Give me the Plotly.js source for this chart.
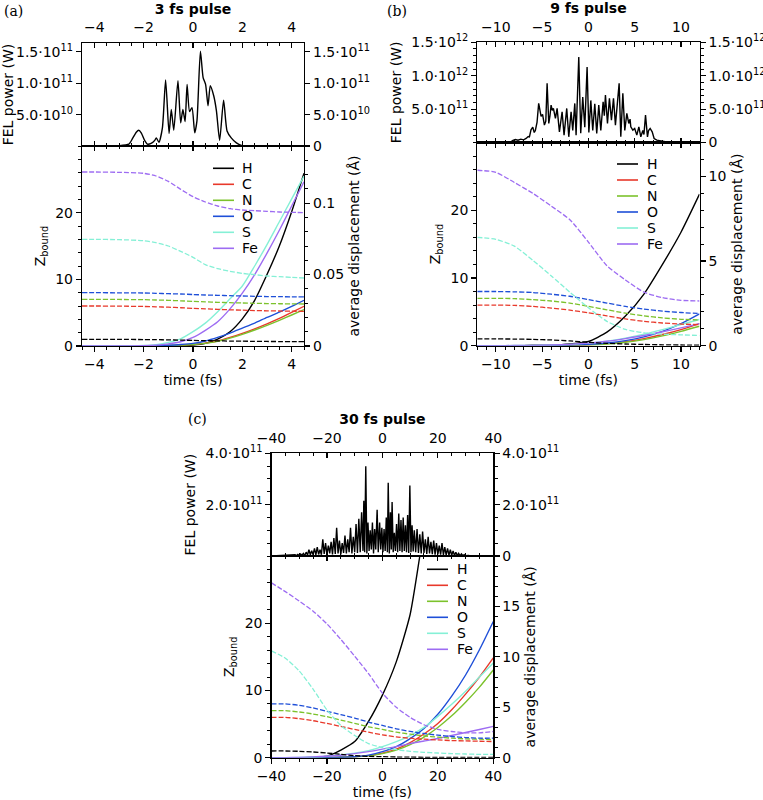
<!DOCTYPE html>
<html><head><meta charset="utf-8">
<script src="https://cdn.plot.ly/plotly-3.0.1.min.js"></script>
<style>html,body{margin:0;padding:0;background:#fff}#chart{width:763px;height:800px}</style>
</head><body><div id="chart"></div>
<script>
// ---------------- DATA ----------------
const elements = ['H','C','N','O','S','Fe'];
const colors = ['#000000','#e8392b','#7cc22c','#1e4fd8','#85f0d6','#9d6cf2'];

// Panel (a) : 3 fs pulse. FEL power in units of 1e10 W
const tPowA = [-4.5,-3.0,-2.6,-2.45,-2.3,-2.2,-2.1,-1.95,-1.85,-1.7,-1.55,-1.49,-1.38,-1.24,-1.11,-0.97,-0.88,-0.78,-0.61,-0.50,-0.41,-0.32,-0.24,-0.14,-0.04,0.07,0.16,0.30,0.41,0.51,0.61,0.70,0.84,0.95,1.08,1.24,1.38,1.55,1.76,1.96,2.2,4.5];
const powA  = [0,0.05,0.3,1.2,2.2,2.5,2.1,0.8,0.3,0.4,0.9,1.3,0.6,2.9,10.5,2.0,5.8,2.5,10.4,3.7,5.8,3.9,9.8,5.5,6.1,2.1,4.0,15.1,10.9,9.8,6.4,9.6,8.0,5.6,0.9,7.3,2.4,1.3,0.5,0.1,0,0];
const tA = [-4.5,-4,-3,-2,-1.5,-1,-0.5,0,0.5,1,1.5,2,2.5,3,3.5,4,4.5];
const zA_H  = [1.0,1.0,0.99,0.97,0.95,0.92,0.88,0.84,0.8,0.77,0.74,0.72,0.7,0.68,0.67,0.66,0.65];
const zA_C  = [6.0,6.0,5.98,5.93,5.88,5.82,5.74,5.65,5.57,5.5,5.43,5.37,5.32,5.28,5.25,5.22,5.2];
const zA_N  = [7.0,7.0,6.98,6.95,6.9,6.85,6.78,6.7,6.62,6.55,6.5,6.45,6.4,6.37,6.34,6.32,6.3];
const zA_O  = [8.0,8.0,7.98,7.95,7.9,7.85,7.8,7.72,7.65,7.6,7.55,7.5,7.45,7.42,7.4,7.38,7.36];
const zA_S  = [16.0,16.0,15.95,15.8,15.5,15.0,14.2,13.3,12.2,11.6,11.2,10.9,10.7,10.5,10.4,10.3,10.2];
const zA_Fe = [26.1,26.1,26.05,25.9,25.5,24.7,23.5,22.4,21.6,21.0,20.6,20.4,20.3,20.2,20.1,20.05,20.0];
const dA_H  = [0,0,0,0,0,0,0.0002,0.0006,0.0018,0.0048,0.01,0.019,0.032,0.05,0.07,0.094,0.121];
const dA_C  = [0,0,0,0,0.0001,0.0003,0.0006,0.0011,0.002,0.0035,0.006,0.0088,0.012,0.0155,0.0193,0.0235,0.0278];
const dA_N  = [0,0,0,0,0.0001,0.0003,0.0006,0.001,0.0018,0.0032,0.0055,0.0082,0.0112,0.0145,0.018,0.0217,0.0255];
const dA_O  = [0,0,0,0.0001,0.0002,0.0005,0.001,0.0018,0.0035,0.006,0.009,0.0125,0.016,0.02,0.0237,0.0277,0.032];
const dA_S  = [0,0,0.0001,0.0004,0.001,0.0025,0.005,0.01,0.016,0.024,0.033,0.042,0.056,0.071,0.087,0.103,0.119];
const dA_Fe = [0,0,0,0.0002,0.0006,0.0015,0.003,0.006,0.011,0.017,0.026,0.037,0.05,0.065,0.081,0.098,0.115];

// Panel (b) : 9 fs pulse. FEL power in units of 1e11 W
const tPowB = [-12,-9,-8.4,-8.2,-7.9,-7.6,-7.3,-7.0,-6.73,-6.5,
  -6.37,-6.2,-6.01,-5.85,-5.73,-5.55,-5.37,-5.11,-4.95,-4.75,
  -4.6,-4.46,-4.28,-4.15,-4.03,-3.9,-3.78,-3.56,-3.38,-3.13,
  -2.98,-2.84,-2.63,-2.5,-2.34,-2.12,-2.0,-1.87,-1.69,-1.47,
  -1.33,-1.04,-0.83,-0.61,-0.39,-0.14,0.05,0.26,0.47,0.69,
  0.9,1.12,1.34,1.59,1.72,1.84,2.06,2.27,2.49,2.71,
  2.92,3.1,3.32,3.5,3.72,3.93,4.15,4.36,4.5,4.58,
  4.8,5.0,5.23,5.45,5.66,5.88,6.0,6.17,6.38,6.5,
  6.67,6.89,7.1,7.39,7.72,8.08,8.6,9,12];
const powB = [0,0,0.05,0.3,0.45,0.35,0.5,0.4,0.6,0.9,
  0.85,1.9,2.3,1.5,1.8,3.0,5.85,3.9,4.2,2.6,
  3.2,8.85,2.85,4.0,5.6,4.8,5.1,3.6,5.1,1.6,
  3.0,4.6,1.1,3.0,5.1,0.85,2.5,4.6,1.8,5.85,
  1.1,12.8,1.4,6.8,2.3,11.3,1.5,6.3,1.8,5.8,
  1.35,5.6,1.8,6.1,4.0,7.1,2.85,6.6,3.35,6.6,
  2.6,5.0,8.85,0.85,7.35,1.8,4.35,2.85,3.5,2.35,
  1.85,2.1,1.1,2.35,0.85,1.8,1.2,4.1,0.85,1.8,
  2.1,1.6,0.6,0.35,0.25,0.25,0.05,0,0];
const tB = [-12,-10,-8,-6,-4,-2,0,2,4,6,8,10,12];
const zB_H  = [1.0,1.0,0.98,0.93,0.85,0.7,0.5,0.35,0.25,0.18,0.13,0.1,0.08];
const zB_C  = [6.0,6.0,5.95,5.8,5.55,5.25,4.85,4.4,3.95,3.6,3.35,3.2,3.1];
const zB_N  = [7.0,7.0,6.95,6.8,6.6,6.3,5.8,5.3,4.8,4.4,4.1,3.9,3.8];
const zB_O  = [8.0,8.0,7.95,7.85,7.6,7.3,6.8,6.3,5.8,5.4,5.1,4.9,4.75];
const zB_S  = [16.0,15.7,14.7,12.6,10.3,7.9,5.6,3.6,2.4,1.9,1.7,1.6,1.5];
const zB_Fe = [25.9,25.6,24.1,22.5,20.6,18.6,15.3,11.8,9.7,7.9,7.1,6.7,6.6];
const dB_H  = [0,0,0,0.01,0.03,0.1,0.25,0.8,1.75,3.05,4.8,6.7,8.95];
const dB_C  = [0,0,0,0.01,0.02,0.03,0.06,0.12,0.24,0.42,0.66,0.95,1.3];
const dB_N  = [0,0,0,0.01,0.02,0.03,0.05,0.1,0.2,0.36,0.58,0.85,1.15];
const dB_O  = [0,0,0,0.01,0.02,0.04,0.08,0.16,0.3,0.52,0.85,1.3,1.88];
const dB_S  = [0,0,0.01,0.02,0.04,0.08,0.15,0.27,0.45,0.68,0.95,1.25,1.55];
const dB_Fe = [0,0,0.01,0.02,0.04,0.08,0.15,0.26,0.42,0.6,0.82,1.05,1.3];

// Panel (c) : 30 fs pulse. FEL power in units of 1e11 W
const tPowC = [-40,-32,-31.5,-31,-30.5,-30,-29.5,-29,-28.5,-28,
  -27.5,-27,-26.5,-26,-25.5,-25,-24.5,-24,-23.5,-23,
  -22.5,-22,-21.5,-21,-20.5,-20,-19.5,-19,-18.5,-18,
  -17.5,-17,-16.5,-16,-15.5,-15,-14.5,-14,-13.5,-13,
  -12.5,-12,-11.5,-11,-10.5,-10,-9.5,-9,-8.5,-8,
  -7.5,-7,-6.7,-6.4,-6,-5.6,-5.2,-4.8,-4.4,-4,
  -3.6,-3.2,-2.8,-2.4,-1.9,-1.5,-1,-0.6,-0.2,0.2,
  0.6,1,1.4,1.8,2.1,2.5,2.9,3.2,3.5,3.9,
  4.3,4.7,5.1,5.5,5.9,6.3,6.7,7.1,7.5,7.9,
  8.3,8.7,9.1,9.5,9.9,10.3,10.7,11.1,11.5,12,
  12.5,13,13.5,14,14.5,15,15.5,16,16.5,17,
  17.5,18,18.5,19,19.5,20,20.5,21,21.5,22,
  22.5,23,23.5,24,24.5,25,25.5,26,26.5,27,
  27.5,28,28.5,29,29.5,30,31,32,40];
const powC = [0,0.02,0.05,0.02,0.06,0.02,0.08,0.03,0.1,0.02,
  0.15,0.04,0.25,0.05,0.2,0.05,0.3,0.04,0.35,0.06,
  0.25,0.05,0.65,0.08,0.5,0.06,0.4,0.1,0.55,0.06,
  0.7,0.08,1.1,0.1,0.6,0.06,0.5,0.12,0.8,0.1,
  0.65,0.15,1.1,0.1,0.75,0.15,1.25,0.12,1.45,0.15,
  1.7,0.2,2.15,0.15,3.5,0.1,1.3,0.2,1.0,0.25,
  1.3,0.1,1.05,0.25,1.8,0.15,1.3,0.25,1.1,0.15,
  1.05,0.2,1.5,0.15,2.85,0.1,1.7,0.25,2.1,0.15,
  0.9,0.2,1.25,0.15,1.65,0.2,1.4,0.15,1.5,0.2,
  1.2,0.15,1.6,0.12,2.75,0.15,1.2,0.18,1.0,0.15,
  1.05,0.12,0.85,0.1,0.95,0.12,0.65,0.08,0.75,0.1,
  0.55,0.07,0.6,0.05,0.5,0.06,0.4,0.05,0.5,0.04,
  0.35,0.03,0.3,0.03,0.25,0.03,0.2,0.02,0.15,0.02,
  0.1,0.01,0.08,0.01,0.05,0.01,0.02,0,0];
const tC = [-40,-35,-30,-25,-20,-15,-10,-5,0,5,10,15,20,25,30,35,40];
const zC_H  = [1.0,1.0,0.95,0.85,0.7,0.5,0.3,0.2,0.15,0.1,0.08,0.06,0.05,0.05,0.04,0.04,0.04];
const zC_C  = [6.0,6.0,5.8,5.5,5.1,4.65,4.2,3.8,3.4,3.1,2.9,2.75,2.65,2.55,2.5,2.45,2.4];
const zC_N  = [7.0,7.0,6.8,6.5,6.1,5.6,5.1,4.6,4.2,3.8,3.5,3.25,3.05,2.9,2.8,2.75,2.7];
const zC_O  = [8.0,8.0,7.8,7.4,6.9,6.4,5.9,5.3,4.8,4.3,3.9,3.6,3.35,3.15,3.0,2.9,2.9];
const zC_S  = [15.9,14.8,12.9,10.2,7.1,4.8,3.3,2.1,1.5,1.2,0.95,0.8,0.7,0.6,0.55,0.5,0.5];
const zC_Fe = [26.0,24.7,23.3,21.8,19.9,17.6,15.1,12.5,9.6,7.5,6.0,4.9,4.2,3.9,3.7,3.7,3.9];
const tC_H  = [-40,-30,-25,-20,-18,-15,-10,-5,0,5,10,13.5,15];
const dC_H  = [0,0,0.02,0.15,0.35,0.75,1.6,3.6,6.2,9.5,14.2,20.0,22.5];
const dC_C  = [0,0,0,0.01,0.02,0.05,0.1,0.2,0.45,0.85,1.5,2.35,3.4,4.75,6.3,8.0,9.9];
const dC_N  = [0,0,0,0.01,0.02,0.04,0.08,0.18,0.4,0.75,1.3,2.05,3.0,4.15,5.5,7.0,8.7];
const dC_O  = [0,0,0,0.01,0.02,0.05,0.1,0.25,0.6,1.1,1.9,2.9,4.3,6.1,8.2,10.7,13.5];
const dC_S  = [0,0,0.02,0.07,0.15,0.28,0.45,0.7,1.1,1.6,2.2,3.0,4.1,5.3,6.6,8.0,9.4];
const dC_Fe = [0,0,0.03,0.08,0.15,0.25,0.4,0.6,0.85,1.1,1.4,1.65,1.9,2.2,2.5,2.8,3.1];

// ---------------- BUILD ----------------
const W = 763, H = 800;
const fx = p => p / W, fy = p => 1 - p / H;
const FONT = 'DejaVu Sans, Verdana, sans-serif';
const TF = {family: FONT, size: 14, color: '#000'};
const traces = [], shapes = [], annotations = [];
const layout = {
  width: W, height: H, margin: {l:0, r:0, t:0, b:0},
  paper_bgcolor: '#fff', plot_bgcolor: 'rgba(0,0,0,0)',
  showlegend: false, hovermode: false, font: TF
};

function ax(extra) {
  return Object.assign({
    showline: true, linecolor: '#000', linewidth: 1.2,
    ticks: 'outside', ticklen: 5, tickwidth: 1.2, tickcolor: '#000',
    showgrid: false, zeroline: false, fixedrange: true, tickfont: TF
  }, extra);
}
function minor(d, dir) { return {dtick: d, tick0: 0, ticks: dir, ticklen: 3, tickwidth: 1, tickcolor: '#000'}; }
function key(id) { return id.replace('x','xaxis').replace('y','yaxis'); }

function panel(c) {
  const xd = [fx(c.xpx[0]), fx(c.xpx[1])];
  layout[key(c.xb)] = ax({domain: xd, anchor: c.yz, range: c.xr, dtick: c.xdt, tick0: 0,
    minor: minor(c.xmin, 'outside'), title: {text: 'time (fs)', font: TF, standoff: 2}});
  layout[key(c.xo)] = ax({overlaying: c.xb, side: 'top', anchor: c.yz, range: c.xr, dtick: c.xdt, tick0: 0,
    ticks: 'inside', showticklabels: false, minor: minor(c.xmin, 'inside')});
  layout[key(c.xt)] = ax({domain: xd, anchor: c.yp, side: 'top', range: c.xr, dtick: c.xdt, tick0: 0,
    ticks: 'inside', mirror: 'ticks', minor: minor(c.xmin, 'inside'), ticklabelstandoff: 4,
    title: {text: '<b>' + c.title + '</b>', font: {family: FONT, size: 14, color: '#000', weight: 'bold'}, standoff: 1}});
  layout[key(c.yz)] = ax({domain: [fy(c.ylow[1]), fy(c.ylow[0])], anchor: c.xb, range: [0, 30],
    tickmode: 'array', tickvals: [0, 10, 20], minor: minor(2, 'outside'),
    title: {text: 'Z<sub>bound</sub>', font: TF, standoff: 6}});
  layout[key(c.yd)] = ax({overlaying: c.yz, side: 'right', anchor: c.xb, range: c.dr,
    tickmode: 'array', tickvals: c.dvals, ticktext: c.dtext, minor: minor(c.dmin, 'outside'),
    title: {text: 'average displacement (Å)', font: TF, standoff: 6}});
  layout[key(c.yp)] = ax({domain: [fy(c.yup[1]), fy(c.yup[0])], anchor: c.xt, range: c.pr,
    tickmode: 'array', tickvals: c.pvals, ticktext: c.ptext,
    minor: c.pmin ? minor(c.pmin, 'outside') : undefined,
    title: {text: 'FEL power (W)', font: TF, standoff: 6}});
  layout[key(c.yp2)] = ax({overlaying: c.yp, side: 'right', anchor: c.xt, range: c.pr,
    tickmode: 'array', tickvals: [0].concat(c.pvals), ticktext: ['0'].concat(c.ptext),
    minor: c.pmin ? minor(c.pmin, 'outside') : undefined});

  const pw = c.pv.map(v => v * c.punit);
  traces.push({x: c.pt, y: pw, xaxis: c.xt, yaxis: c.yp, mode: 'lines',
    line: {color: '#000', width: 1.4, shape: c.pshape, smoothing: 0.6}});
  traces.push({x: c.pt, y: pw, xaxis: c.xt, yaxis: c.yp2, mode: 'none'});

  elements.forEach((el, i) => {
    traces.push({x: c.t, y: c.z[i], xaxis: c.xo, yaxis: c.yz, mode: 'lines',
      line: {color: colors[i], width: 1.3, dash: '5px,2px', shape: 'spline', smoothing: 0.6}});
    traces.push({x: c.dt[i], y: c.d[i], xaxis: c.xb, yaxis: c.yd, mode: 'lines',
      line: {color: colors[i], width: 1.4, shape: 'spline', smoothing: 0.6}});
    const ly = c.leg[2] + i * 16;
    shapes.push({type: 'line', xref: 'paper', yref: 'paper', x0: fx(c.leg[0]), x1: fx(c.leg[0] + 21),
      y0: fy(ly), y1: fy(ly), line: {color: colors[i], width: 1.6}});
    annotations.push({xref: 'paper', yref: 'paper', x: fx(c.leg[1]), y: fy(ly), xanchor: 'left', yanchor: 'middle',
      text: el, showarrow: false, font: TF});
  });
  annotations.push({xref: 'paper', yref: 'paper', x: fx(c.lab[0]), y: fy(c.lab[1]), xanchor: 'left', yanchor: 'middle',
    text: c.label, showarrow: false, font: {family: 'DejaVu Serif, serif', size: 14, color: '#000'}});
}

panel({xb:'x', xt:'x2', xo:'x7', yz:'y', yd:'y2', yp:'y3', yp2:'y4',
  xpx:[82,304], yup:[43,146], ylow:[146,346], xr:[-4.5,4.5], xdt:2, xmin:0.5, title:'3 fs pulse',
  dr:[0,0.14], dvals:[0,0.05,0.1], dtext:['0','0.05','0.1'], dmin:0.01,
  pr:[0,1.64e11], pvals:[5e10,1e11,1.5e11], ptext:['5.0·10<sup>10</sup>','1.0·10<sup>11</sup>','1.5·10<sup>11</sup>'], pmin:null,
  pt:tPowA, pv:powA, punit:1e10, pshape:'spline',
  t:tA, z:[zA_H,zA_C,zA_N,zA_O,zA_S,zA_Fe], dt:[tA,tA,tA,tA,tA,tA], d:[dA_H,dA_C,dA_N,dA_O,dA_S,dA_Fe],
  leg:[213,240,168.3], label:'(a)', lab:[2,11]});

panel({xb:'x3', xt:'x4', xo:'x8', yz:'y5', yd:'y6', yp:'y7', yp2:'y8',
  xpx:[477.3,699.5], yup:[42.3,142.5], ylow:[142.5,345.7], xr:[-12,12], xdt:5, xmin:1, title:'9 fs pulse',
  dr:[0,12], dvals:[0,5,10], dtext:['0','5','10'], dmin:1,
  pr:[0,1.5e12], pvals:[5e11,1e12,1.5e12], ptext:['5.0·10<sup>11</sup>','1.0·10<sup>12</sup>','1.5·10<sup>12</sup>'], pmin:1e11,
  pt:tPowB, pv:powB, punit:1e11, pshape:'linear',
  t:tB, z:[zB_H,zB_C,zB_N,zB_O,zB_S,zB_Fe], dt:[tB,tB,tB,tB,tB,tB], d:[dB_H,dB_C,dB_N,dB_O,dB_S,dB_Fe],
  leg:[617,645,164], label:'(b)', lab:[385,11]});

panel({xb:'x5', xt:'x6', xo:'x9', yz:'y9', yd:'y10', yp:'y11', yp2:'y12',
  xpx:[271.5,493.3], yup:[453.3,556], ylow:[556,757.7], xr:[-40,40], xdt:20, xmin:5, title:'30 fs pulse',
  dr:[0,20], dvals:[0,5,10,15], dtext:['0','5','10','15'], dmin:1,
  pr:[0,4e11], pvals:[2e11,4e11], ptext:['2.0·10<sup>11</sup>','4.0·10<sup>11</sup>'], pmin:5e10,
  pt:tPowC, pv:powC, punit:1e11, pshape:'linear',
  t:tC, z:[zC_H,zC_C,zC_N,zC_O,zC_S,zC_Fe], dt:[tC_H,tC,tC,tC,tC,tC], d:[dC_H,dC_C,dC_N,dC_O,dC_S,dC_Fe],
  leg:[427,455,569.3], label:'(c)', lab:[186,419]});

layout.shapes = shapes;
layout.annotations = annotations;
Plotly.newPlot('chart', traces, layout, {displayModeBar: false, staticPlot: true});
</script>
</body></html>
